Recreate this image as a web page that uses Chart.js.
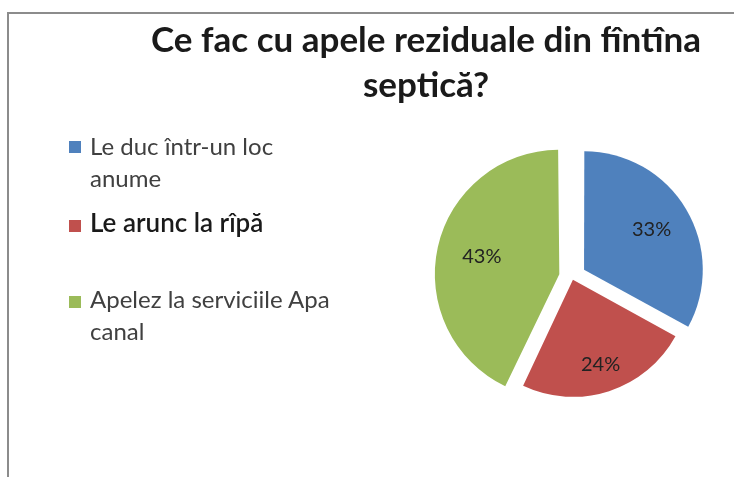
<!DOCTYPE html>
<html>
<head>
<meta charset="utf-8">
<script src="https://cdn.jsdelivr.net/npm/chart.js@4.4.0/dist/chart.umd.min.js"></script>
<style>
  html, body { margin: 0; padding: 0; background: #fff; }
  body { width: 734px; height: 477px; position: relative; overflow: hidden; font-family: "Lato", "Open Sans", sans-serif; }
  #frame { position: absolute; left: 7px; top: 12px; width: 740px; height: 480px; border-left: 2px solid #8c8c8c; border-top: 2px solid #8c8c8c; }
  #title { position: absolute; left: 118px; top: 16px; width: 616px; text-align: center; font-weight: 700; font-size: 35px; line-height: 45px; color: #1a1a1a; }
  #pie { position: absolute; left: 0; top: 0; }
  .item { position: absolute; left: 90px; font-size: 24px; line-height: 32px; color: #404040; white-space: nowrap; }
  .item.strong { font-size: 26px; font-weight: 600; color: #1a1a1a; }
  .box { position: absolute; left: 69px; width: 12px; height: 12px; }
</style>
</head>
<body>
<div id="frame"></div>
<canvas id="pie" width="734" height="477"></canvas>
<div id="title"></div>
<div id="legend"></div>
<script>
const titleLines = ["Ce fac cu apele reziduale din fîntîna", "septică?"];
const categories = [["Le duc într-un loc", "anume"], ["Le arunc la rîpă"], ["Apelez la serviciile Apa", "canal"]];
const shares = [33, 24, 43];
const colors = ["#4f81bd", "#c0504d", "#9bbb59"];
// how far each slice is pulled out of the pie
const explode = [56, 12, 52];

document.getElementById("title").innerHTML = titleLines.join("<br>");

// legend built by hand: the second entry uses a heavier font in the original
const legendTops = [130, 206, 283];
const boxTops = [141, 220, 296];
const legend = document.getElementById("legend");
categories.forEach((lines, i) => {
  const box = document.createElement("div");
  box.className = "box";
  box.style.top = boxTops[i] + "px";
  box.style.background = colors[i];
  legend.appendChild(box);
  const txt = document.createElement("div");
  txt.className = i === 1 ? "item strong" : "item";
  txt.style.top = legendTops[i] + "px";
  txt.innerHTML = lines.join("<br>");
  legend.appendChild(txt);
});

// percentage labels inside the slices
const pctLabels = {
  id: "pctLabels",
  afterDatasetsDraw(chart) {
    const c = chart.ctx;
    const meta = chart.getDatasetMeta(0);
    c.save();
    c.font = "20px Lato, 'Open Sans', sans-serif";
    c.fillStyle = "#222";
    c.textAlign = "center";
    c.textBaseline = "middle";
    meta.data.forEach((arc, i) => {
      const p = arc.getProps(["x", "y", "startAngle", "endAngle", "outerRadius"], true);
      const mid = (p.startAngle + p.endAngle) / 2;
      const r = p.outerRadius * 0.79;
      c.fillText(shares[i] + "%", p.x + Math.cos(mid) * r, p.y + Math.sin(mid) * r);
    });
    c.restore();
  }
};

const pieCtx = document.getElementById("pie");
new Chart(pieCtx, {
  type: "pie",
  data: {
    labels: categories.map(l => l.join(" ")),
    datasets: [
      {
        data: shares,
        backgroundColor: colors,
        borderWidth: 0,
        offset: explode
      }
    ]
  },
  options: {
    responsive: false,
    animation: false,
    radius: 117,
    layout: { padding: { left: 424, right: 14, top: 130, bottom: 53 } },
    plugins: {
      legend: { display: false },
      title: { display: false },
      tooltip: { enabled: false }
    }
  },
  plugins: [pctLabels]
});
</script>
</body>
</html>
